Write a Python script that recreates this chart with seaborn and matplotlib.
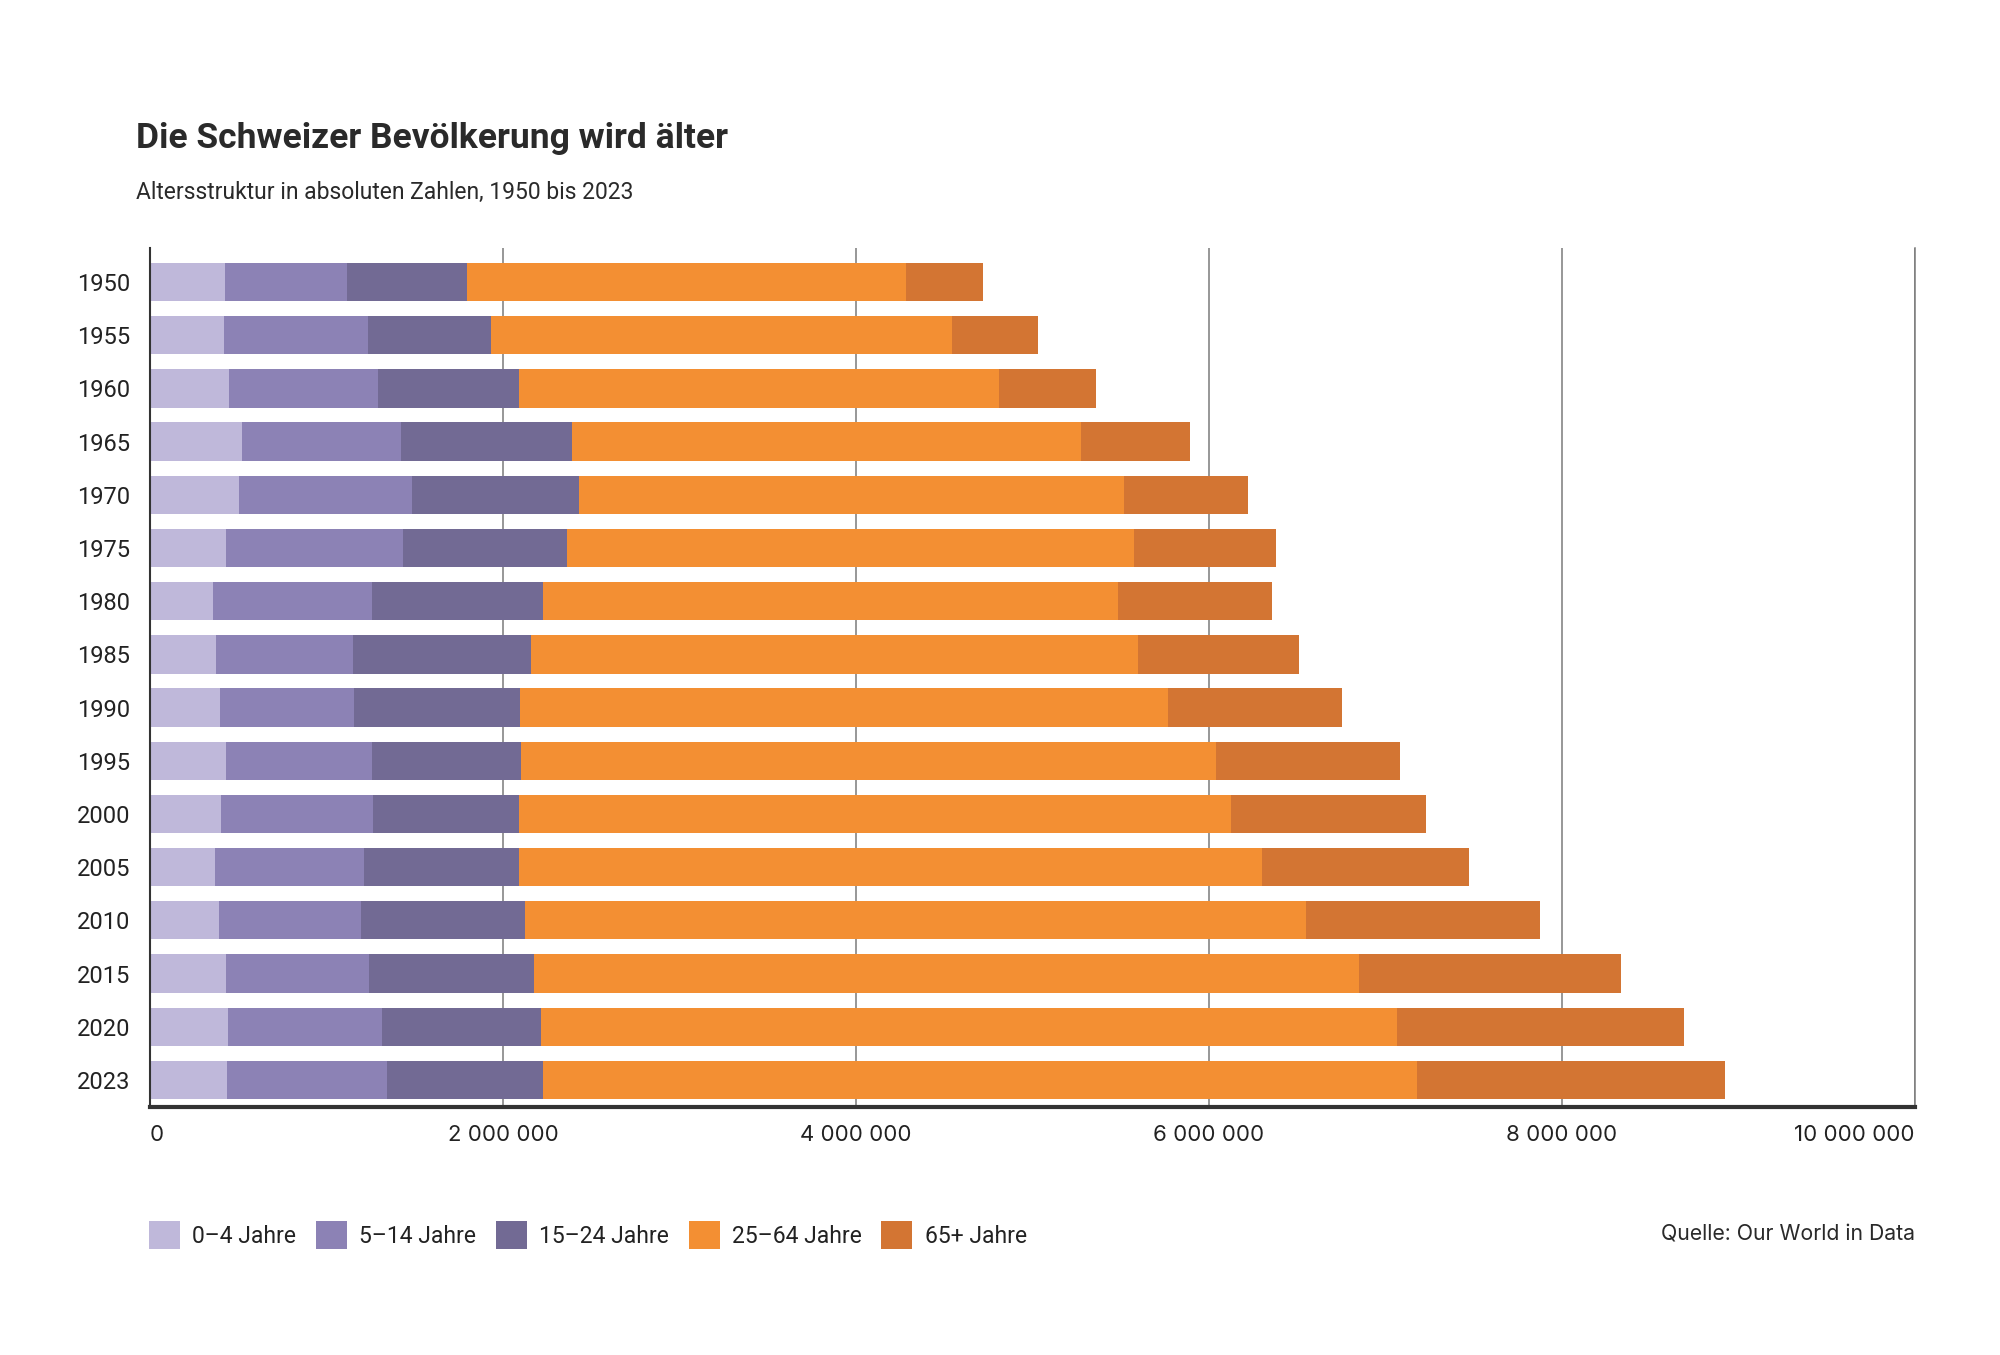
import matplotlib
matplotlib.use("Agg")
import matplotlib.pyplot as plt
from matplotlib.patches import Patch
import pandas as pd
import seaborn as sns

years = ["1950", "1955", "1960", "1965", "1970", "1975", "1980", "1985",
         "1990", "1995", "2000", "2005", "2010", "2015", "2020", "2023"]

# population per age group, in millions
age_0_4 = [0.425, 0.420, 0.448, 0.520, 0.507, 0.428, 0.359, 0.375,
           0.395, 0.428, 0.405, 0.369, 0.390, 0.428, 0.441, 0.438]
age_5_14 = [0.691, 0.813, 0.844, 0.904, 0.976, 1.006, 0.900, 0.777,
            0.762, 0.828, 0.856, 0.841, 0.807, 0.813, 0.871, 0.902]
age_15_24 = [0.680, 0.698, 0.797, 0.966, 0.950, 0.930, 0.968, 1.008,
             0.937, 0.846, 0.828, 0.879, 0.930, 0.937, 0.902, 0.889]
age_25_64 = [2.485, 2.612, 2.723, 2.885, 3.083, 3.213, 3.256, 3.436,
             3.676, 3.938, 4.035, 4.210, 4.423, 4.671, 4.850, 4.951]
age_65 = [0.440, 0.488, 0.550, 0.616, 0.703, 0.802, 0.874, 0.914,
          0.984, 1.042, 1.104, 1.176, 1.326, 1.486, 1.628, 1.745]

groups = ["0–4 Jahre", "5–14 Jahre", "15–24 Jahre", "25–64 Jahre", "65+ Jahre"]
colors = ["#bfb8da", "#8c82b5", "#726a94", "#f38f33", "#d37533"]
xticks = [0, 2_000_000, 4_000_000, 6_000_000, 8_000_000, 10_000_000]
xticklabels = ["0", "2 000 000", "4 000 000", "6 000 000", "8 000 000", "10 000 000"]

sns.set_theme(style="white")
plt.rcParams["font.family"] = ["Roboto", "DejaVu Sans"]

df = pd.DataFrame({"year": years})
for name, vals in zip(groups, [age_0_4, age_5_14, age_15_24, age_25_64, age_65]):
    df[name] = [v * 1e6 for v in vals]
cum = df[groups].cumsum(axis=1)
cum["year"] = years

fig = plt.figure(figsize=(20, 13.55), dpi=100)
ax = fig.add_axes([0.075, 0.183, 0.8825, 0.634])

# stacked bars: draw cumulative totals from the outside in
for name, color in reversed(list(zip(groups, colors))):
    sns.barplot(data=cum, x=name, y="year", orient="h", color=color,
                width=0.72, saturation=1, linewidth=0, ax=ax, zorder=2)

ax.set_xlim(0, 10_000_000)
ax.set_ylim(15.51, -0.64)
ax.set_xlabel("")
ax.set_ylabel("")
ax.set_xticks(xticks)
ax.set_xticklabels(xticklabels, family=["Inter", "DejaVu Sans"], fontsize=16)
ax.grid(axis="x", color="#7a7a7a", linewidth=1.1, zorder=0)
ax.set_axisbelow(True)

ax.spines["top"].set_visible(False)
ax.spines["left"].set_color("#333333")
ax.spines["left"].set_linewidth(1.5)
ax.spines["right"].set_color("#7a7a7a")
ax.spines["right"].set_linewidth(1.1)
ax.spines["bottom"].set_color("#333333")
ax.spines["bottom"].set_linewidth(3)

ax.tick_params(axis="both", length=0, colors="#222222")
ax.tick_params(axis="y", pad=14, labelsize=17)
ax.tick_params(axis="x", pad=13)
xlabels = ax.get_xticklabels()
xlabels[0].set_ha("left")
xlabels[-1].set_ha("right")

fig.text(0.068, 0.898, "Die Schweizer Bevölkerung wird älter", fontsize=25.5,
         fontweight="bold", color="#2a2a2a", va="center", ha="left")
fig.text(0.068, 0.858, "Altersstruktur in absoluten Zahlen, 1950 bis 2023", fontsize=16.5,
         color="#2a2a2a", va="center", ha="left")
fig.text(0.9575, 0.0886, "Quelle: Our World in Data", fontsize=15.3,
         family=["Inter", "DejaVu Sans"], color="#2a2a2a", va="center", ha="right")

handles = [Patch(facecolor=c, edgecolor="none", label=g) for g, c in zip(groups, colors)]
fig.legend(handles=handles, loc="center left", bbox_to_anchor=(0.064, 0.0886), ncol=5,
           frameon=False, fontsize=16.5, handlelength=1.35, handleheight=1.45,
           handletextpad=0.55, columnspacing=0.85, labelcolor="#222222")

fig.savefig("out.png", dpi=100, facecolor="white")
